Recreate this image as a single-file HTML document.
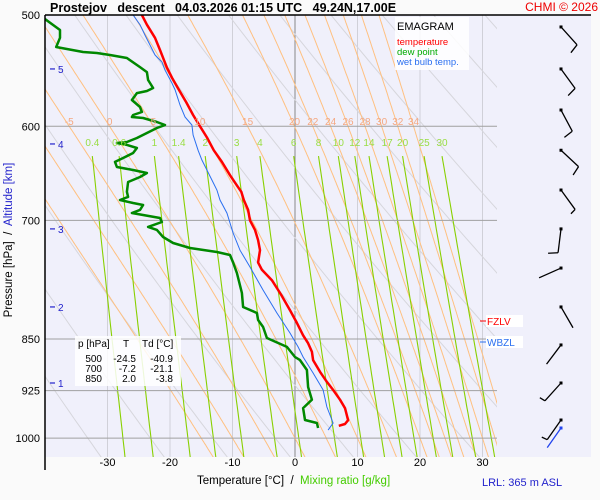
<!DOCTYPE html>
<html><head><meta charset="utf-8">
<style>
html,body{margin:0;padding:0;background:#fafafa;}
svg{display:block;font-family:"Liberation Sans",Arial,sans-serif;}
</style></head>
<body>
<svg id="chart" width="600" height="500" viewBox="0 0 600 500">
  <rect x="0" y="0" width="600" height="500" fill="#fafafa"/>
  <rect x="45" y="15" width="546" height="442" fill="#f0f0fb"/>
  <defs><clipPath id="clipPlot"><rect x="45" y="15" width="452" height="442"/></clipPath></defs>
  <g id="grid" clip-path="url(#clipPlot)"></g>
  <g id="series" clip-path="url(#clipPlot)"></g>
  <g id="labels"></g>
  <g id="wind"></g>
  <line x1="45" y1="15" x2="591" y2="15" stroke="#000" stroke-width="1.5"/>
  <line x1="45" y1="15" x2="45" y2="470" stroke="#000" stroke-width="1.5"/>
  <text x="50" y="12" font-size="12.5" font-weight="bold" xml:space="preserve">Prostejov   descent   04.03.2026 01:15 UTC   49.24N,17.00E</text>
  <text x="598" y="11" font-size="12" fill="#e00" text-anchor="end">CHMI © 2026</text>
  <text transform="translate(12,240) rotate(-90)" font-size="11.5" text-anchor="middle" xml:space="preserve"><tspan fill="#000">Pressure [hPa]  /  </tspan><tspan fill="#22c">Altitude [km]</tspan></text>
  <text x="197" y="484" font-size="11.5" xml:space="preserve"><tspan fill="#000">Temperature [°C]  /  </tspan><tspan fill="#44cc00">Mixing ratio [g/kg]</tspan></text>
  <text x="482" y="486" font-size="11" fill="#22c">LRL: 365 m ASL</text>
  <g>
    <rect x="395" y="17" width="74" height="53" fill="#fff" fill-opacity="0.85"/>
    <text x="397" y="30" font-size="11">EMAGRAM</text>
    <text x="397" y="45" font-size="9.5" fill="#f00">temperature</text>
    <text x="397" y="55" font-size="9.5" fill="#0a0">dew point</text>
    <text x="397" y="65" font-size="9.5" fill="#2a6ff0">wet bulb temp.</text>
  </g>
  <g>
    <rect x="75" y="336" width="106" height="50" fill="#fff" fill-opacity="0.85"/>
    <text font-size="10"><tspan x="78" y="347">p [hPa]</tspan><tspan x="123" y="347">T</tspan><tspan x="142" y="347">Td [°C]</tspan></text>
    <text font-size="10" text-anchor="end"><tspan x="102" y="362">500</tspan><tspan x="136" y="362">-24.5</tspan><tspan x="173" y="362">-40.9</tspan></text>
    <text font-size="10" text-anchor="end"><tspan x="102" y="372">700</tspan><tspan x="136" y="372">-7.2</tspan><tspan x="173" y="372">-21.1</tspan></text>
    <text font-size="10" text-anchor="end"><tspan x="102" y="382">850</tspan><tspan x="136" y="382">2.0</tspan><tspan x="173" y="382">-3.8</tspan></text>
  </g>
  <g>
    <rect x="486" y="315" width="37" height="12" fill="#fff"/>
    <line x1="480" y1="321" x2="486" y2="321" stroke="#f00"/>
    <text x="487" y="325" font-size="10" fill="#f00">FZLV</text>
  </g>
  <g>
    <rect x="486" y="336" width="37" height="12" fill="#fff"/>
    <line x1="480" y1="342" x2="486" y2="342" stroke="#2a6ff0"/>
    <text x="487" y="346" font-size="10" fill="#2a6ff0">WBZL</text>
  </g>
</svg>
<script>
// ---- data ----
const tempP=[500,508,519,529.5,538,545,554,565,577,589,600,611,624,636,650,661,668,677,688,700,711,723,735,750,759,772,791,811,828,845,856,868,880,897,912,924,939,952,971,977,980];
const tempT=[-24.5,-23.7,-22.4,-21.6,-21.0,-20.5,-19.7,-18.6,-17.4,-16.3,-15.2,-14.1,-13.0,-11.7,-10.4,-9.3,-8.6,-8.2,-7.5,-7.2,-6.4,-5.9,-5.6,-5.9,-5.3,-3.7,-2.2,-0.8,0.3,1.3,2.1,2.7,2.9,4.0,5.1,6.1,7.2,8.0,8.5,8.0,7.0];
const dewP=[500,512.4,519,526.9,528.6,531.2,532.1,533.9,536.5,544.5,549,556.2,563.5,566.3,568.2,574.7,581.3,586.1,589,590.9,591.9,595.8,598.7,601.7,606.6,611.6,615.6,616.6,618.6,621.7,626.8,632,636,641.4,644.5,647.7,652,657.3,668,673.6,677,680.3,682.5,688,691.5,693.8,697.2,701.8,707.5,711,719.3,726.4,732.4,737.2,740.8,750,763,788.4,806.6,814.6,824,833.5,848.7,861.2,875.5,880,894.4,919.6,939,952,970.7,975.5,983.5];
const dewT=[-40.9,-37.6,-37.6,-38.2,-36.5,-33.9,-31.7,-29.6,-26.9,-24.8,-23.7,-23.5,-22.7,-23.7,-25.3,-26.1,-24.8,-24.5,-25.9,-26.1,-24.3,-22.1,-20.8,-22.1,-23.7,-25.3,-26.9,-28.5,-26.9,-25.3,-25.9,-27.5,-28.8,-28.5,-25.9,-23.7,-24.8,-26.7,-26.9,-26.7,-28.0,-25.9,-24.3,-24.8,-26.1,-24.3,-21.6,-21.3,-23.5,-22.1,-21.1,-19.5,-16.8,-12.5,-10.4,-9.9,-9.3,-8.5,-8.3,-6.1,-5.9,-5.1,-4.5,-1.3,0,0.8,1.9,2.1,2.7,1.3,1.6,3.5,3.7];
const wbP=[500,508,516.7,525.2,533.9,540,547.2,558.9,565,579.4,590.9,598.7,608.6,624,634,644.5,655.2,666,677,691.5,714.6,735,755.5,784.6,814.6,841.7,861.2,875.5,898.8,924,950.2,975.5,986.8];
const wbT=[-25.9,-24.8,-24.0,-23.2,-22.4,-21.3,-20.8,-19.7,-19.2,-18.4,-17.6,-16.5,-16.3,-15.5,-14.9,-14.1,-13.3,-12.5,-12.0,-10.9,-9.9,-8.8,-7.2,-5.1,-2.9,-0.8,0.5,1.3,2.9,4.5,5.1,6.1,5.3];
const windP=[509.9,546.2,584.2,624,666,709.8,756.8,806.6,858.4,913.6,970.7];
const windDir=[138,144,152,133,144,187,246,150,217,222,215];
const windSpd=[10,10,10,10,5,10,3,3,3,5,5];
const surfWindP=[983.5];
const surfWindDir=[215];
const pressureTicks=[500,600,700,850,925,1000];
const tempTicks=[-30,-20,-10,0,10,20,30];
const altKm=[5,4,3,2,1];
const altP=[546.2,617.6,709.8,806.6,913.6];
const mixRatios=[0.4,0.6,1,1.4,2,3,4,6,8,10,12,14,17,20,25,30];
const moistLabels=[-5,0,5,10,15,20,22,24,26,28,30,32,34];
const moistLines=[-15,-10,-5,0,5,10,15,20,22,24,26,28,30,32,34];
const dryThetas=[240,250,260,270,280,290,300,310,320,330,340,350,360,370,380,390,400,410,420,430,440];

// ---- axes ----
const NS="http://www.w3.org/2000/svg";
function X(t){return 295+6.25*t;}
function Y(p){return 15+610.5*Math.log(p/500);}
function mk(tag,attrs,parent){const e=document.createElementNS(NS,tag);for(const k in attrs)e.setAttribute(k,attrs[k]);parent.appendChild(e);return e;}
const grid=document.getElementById('grid'),series=document.getElementById('series'),labels=document.getElementById('labels'),wind=document.getElementById('wind');
function pathOf(ps,ts){return ps.map((p,i)=>(i?'L':'M')+X(ts[i]).toFixed(1)+','+Y(p).toFixed(1)).join('');}

for(let t=-40;t<=40;t+=10){
  const l=mk('line',{x1:X(t),y1:15,x2:X(t),y2:457,stroke:t===0?'#888':'#d0d0d8','stroke-width':1},grid);
  
  
}
dryThetas.forEach(th=>{
  const ps=[],ts=[];
  for(let p=480;p<=1060;p+=10){ps.push(p);ts.push(th*Math.pow(p/1000,0.2857)-273.15);}
  const e=mk('path',{d:pathOf(ps,ts),fill:'none',stroke:'#d6d6dc','stroke-width':1},grid);
  
  
});
function es(tc){return 6.112*Math.exp(17.67*tc/(tc+243.5));}
function dTdp(T,p){const e=es(T-273.15);const rs=0.622*e/(p-e);const L=2.5e6,R=287,cp=1005;
  return (R*T+L*rs)/(p*(cp+L*L*rs*0.622/(R*T*T)));}
function moist(tw){
  const up=[],down=[];let T=tw+273.15;
  for(let p=1000;p>=480;p-=2){up.push([p,T-273.15]);T-=2*dTdp(T,p);}
  T=tw+273.15;
  for(let p=1000;p<=1060;p+=2){down.push([p,T-273.15]);T+=2*dTdp(T,p);}
  return up.reverse().concat(down.slice(1));
}
function interpAt(arr,p){for(let i=0;i<arr.length-1;i++){if(arr[i][0]<=p&&arr[i+1][0]>=p){const f=(p-arr[i][0])/(arr[i+1][0]-arr[i][0]);return arr[i][1]+f*(arr[i+1][1]-arr[i][1]);}}return arr[0][1];}
moistLines.forEach(tw=>{
  const a=moist(tw);
  const e=mk('path',{d:pathOf(a.map(v=>v[0]),a.map(v=>v[1])),fill:'none',stroke:'#ffc080','stroke-width':1},grid);
  
  
});
moistLabels.forEach(tw=>{
  const t=interpAt(moist(tw),600);
  const e=mk('text',{x:X(t),y:125,'font-size':10,fill:'#f4a882','text-anchor':'middle'},labels);
  e.textContent=String(tw);
  
  
});
function tFromW(w,p){const e=w*p/(622+w);const l=Math.log(e/6.112);return 243.5*l/(17.67-l);}
mixRatios.forEach(w=>{
  const ps=[],ts=[];
  for(let p=630;p<=1060;p+=10){ps.push(p);ts.push(tFromW(w,p));}
  const e=mk('path',{d:pathOf(ps,ts),fill:'none',stroke:'#88d000','stroke-width':1.1},grid);
  
  
  const t=mk('text',{x:X(tFromW(w,630)),y:146,'font-size':10,fill:'#99dd44','text-anchor':'middle'},labels);
  t.textContent=String(w);
  
  
});
pressureTicks.forEach(p=>{
  if(p>500){
    const l=mk('line',{x1:45,y1:Y(p),x2:497,y2:Y(p),stroke:'#a0a0a0','stroke-width':1},grid);
    
    
  }
  const t=mk('text',{x:40,y:Y(p)+4,'font-size':11,'text-anchor':'end'},labels);
  t.textContent=String(p);
  
  
});
tempTicks.forEach(v=>{
  const t=mk('text',{x:X(v),y:466,'font-size':11,'text-anchor':'middle'},labels);
  t.textContent=String(v);
  
  
});
altKm.forEach((k,i)=>{
  const y=Y(altP[i]);
  const l=mk('line',{x1:50,y1:y,x2:55,y2:y,stroke:'#22c','stroke-width':1.2},labels);
  
  
  const t=mk('text',{x:58,y:y+4,'font-size':10,fill:'#22c'},labels);
  t.textContent=String(k);
  
  
});
const wbLine=mk('path',{d:pathOf(wbP,wbT),fill:'none',stroke:'#2a6ff0','stroke-width':1},series);


const dewLine=mk('path',{d:pathOf(dewP,dewT),fill:'none',stroke:'#008800','stroke-width':2.5,'stroke-linejoin':'round'},series);


const tLine=mk('path',{d:pathOf(tempP,tempT),fill:'none',stroke:'#ff0000','stroke-width':2.5,'stroke-linejoin':'round'},series);


function barb(p,dir,spd,color){
  const x0=561,y0=Y(p),r=dir*Math.PI/180;
  const ux=Math.sin(r),uy=-Math.cos(r);
  const x1=x0+24*ux,y1=y0+24*uy;
  const g=mk('g',{},wind);
  
  
  mk('line',{x1:x0,y1:y0,x2:x1,y2:y1,stroke:color,'stroke-width':1.3},g);
  mk('rect',{x:x0-1.5,y:y0-1.5,width:3,height:3,fill:color},g);
  const br=(dir+80)*Math.PI/180,bx=Math.sin(br),by=-Math.cos(br);
  let rem=spd,pos=0;
  while(rem>=10){const sx=x1-pos*ux,sy=y1-pos*uy;mk('line',{x1:sx,y1:sy,x2:sx+10*bx,y2:sy+10*by,stroke:color,'stroke-width':1.3},g);rem-=10;pos+=4;}
  if(rem>=5){const sx=x1-pos*ux,sy=y1-pos*uy;mk('line',{x1:sx,y1:sy,x2:sx+6*bx,y2:sy+6*by,stroke:color,'stroke-width':1.3},g);}
}
windP.forEach((p,i)=>barb(p,windDir[i],windSpd[i],'#000'));
surfWindP.forEach((p,i)=>barb(p,surfWindDir[i],0,'#2244ee'));
</script>
</body></html>
